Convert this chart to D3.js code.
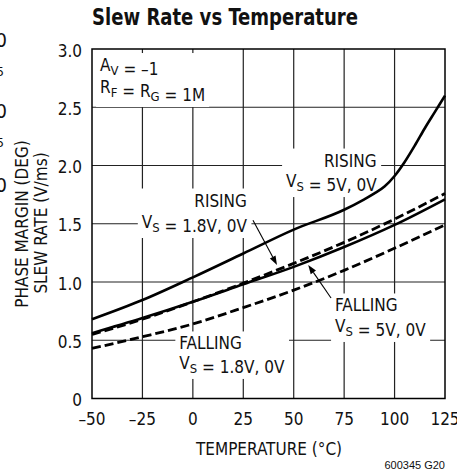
<!DOCTYPE html>
<html><head><meta charset="utf-8">
<script src="https://cdn.jsdelivr.net/npm/d3@7/dist/d3.min.js"></script>
<style>
body{margin:0;background:#fff}
text{font-family:'DejaVu Sans Condensed','Liberation Sans Narrow',sans-serif;fill:#111}
</style>
</head><body><svg id="c" width="457" height="473"></svg>
<script>
// ---- data ----
const title = "Slew Rate vs Temperature";
const xTicks = [-50, -25, 0, 25, 50, 75, 100, 125];
const xTickLabels = ["–50", "–25", "0", "25", "50", "75", "100", "125"];
const yTicks = [0, 0.5, 1.0, 1.5, 2.0, 2.5, 3.0];
const yTickLabels = ["0", "0.5", "1.0", "1.5", "2.0", "2.5", "3.0"];

const tempsRising5V = [-50, -25, 0, 25, 50, 75, 85, 90, 95, 100, 105, 110, 115, 120, 125];
const rising5V      = [0.68, 0.845, 1.04, 1.245, 1.45, 1.62, 1.71, 1.76, 1.82, 1.91, 2.03, 2.17, 2.32, 2.46, 2.6];

const temps       = [-50, -25, 0, 25, 50, 75, 100, 125];
const rising1p8V  = [0.55, 0.68, 0.83, 0.99, 1.16, 1.34, 1.54, 1.76];
const falling5V   = [0.56, 0.69, 0.83, 0.98, 1.13, 1.30, 1.49, 1.71];
const falling1p8V = [0.43, 0.53, 0.64, 0.78, 0.93, 1.10, 1.29, 1.49];

// ---- layout ----
const svg = d3.select("#c");
const W = 457, H = 473;
const m = {l: 92, r: 445, t: 49, b: 398.5};
const x = d3.scaleLinear().domain([-50, 125]).range([m.l, m.r]);
const y = d3.scaleLinear().domain([0, 3]).range([m.b, m.t]);
const FS = 17;

svg.append("rect").attr("width", W).attr("height", H).attr("fill", "#fff");

// cropped glyphs at left edge (neighbouring chart)
[39, 110, 184].forEach(cy => svg.append("text").attr("x", 7).attr("y", cy + 7.5)
  .attr("text-anchor", "end").style("font-size", "20px").text("0"));
[71, 142].forEach(cy => svg.append("text").attr("x", 4).attr("y", cy + 5)
  .attr("text-anchor", "end").style("font-size", "13px").text("5"));

// grid
const grid = svg.append("g").attr("stroke", "#222").attr("stroke-width", 1.2);
xTicks.slice(1, -1).forEach(t => grid.append("line")
  .attr("x1", x(t)).attr("x2", x(t)).attr("y1", m.t).attr("y2", m.b));
yTicks.slice(1, -1).forEach(v => grid.append("line")
  .attr("x1", m.l).attr("x2", m.r).attr("y1", y(v)).attr("y2", y(v)));

// annotation labels (with white knock-out backgrounds)
const bgLayer = svg.append("g");
const curveLayer = svg.append("g");
const textLayer = svg.append("g");

function addLabel(lines, t, v, anchor, lineGap) {
  const g = textLayer.append("g");
  lines.forEach((parts, i) => {
    const tx = g.append("text").attr("x", x(t)).attr("y", y(v) + i * lineGap)
      .attr("text-anchor", anchor).style("font-size", FS + "px");
    parts.forEach(p => {
      if (typeof p === "object") {
        tx.append("tspan").attr("dy", 4).style("font-size", "13px").text(p.s);
        tx.append("tspan").attr("dy", -4).text("");
      } else {
        tx.append("tspan").text(p);
      }
    });
  });
  const bb = g.node().getBBox();
  bgLayer.append("rect").attr("x", bb.x - 4).attr("y", bb.y - 2)
    .attr("width", bb.width + 8).attr("height", bb.height + 4).attr("fill", "#fff");
}

addLabel([["A", {s: "V"}, " = –1"], ["R", {s: "F"}, " = R", {s: "G"}, " = 1M"]], -46, 2.811, "start", 22);
addLabel([["RISING"], ["V", {s: "S"}, " = 5V, 0V"]], 91.1, 1.991, "end", 20.5);
addLabel([["RISING"], ["V", {s: "S"}, " = 1.8V, 0V"]], 26.8, 1.648, "end", 21.5);
addLabel([["FALLING"], ["V", {s: "S"}, " = 5V, 0V"]], 70.5, 0.747, "start", 20.5);
addLabel([["FALLING"], ["V", {s: "S"}, " = 1.8V, 0V"]], -6.7, 0.421, "start", 19.5);

// curves
const line = d3.line().x(d => x(d[0])).y(d => y(d[1])).curve(d3.curveMonotoneX);
function drawCurve(ts, vs, dash) {
  curveLayer.append("path").datum(ts.map((t, i) => [t, vs[i]]))
    .attr("d", line).attr("fill", "none").attr("stroke", "#000")
    .attr("stroke-width", dash ? 2.8 : 2.6)
    .attr("stroke-dasharray", dash ? "9,4" : null);
}
drawCurve(tempsRising5V, rising5V, false);
drawCurve(temps, falling5V, false);
drawCurve(temps, rising1p8V, true);
drawCurve(temps, falling1p8V, true);

// arrows
function arrow(t0, v0, t1, v1) {
  const x0 = x(t0), y0 = y(v0), x1 = x(t1), y1 = y(v1);
  const a = Math.atan2(y1 - y0, x1 - x0), L = 9, w = 3.2;
  const bx = x1 - L * Math.cos(a), by = y1 - L * Math.sin(a);
  svg.append("line").attr("x1", x0).attr("y1", y0).attr("x2", bx).attr("y2", by)
    .attr("stroke", "#000").attr("stroke-width", 1.1);
  svg.append("path").attr("d", `M${x1},${y1}L${bx - w * Math.sin(a)},${by + w * Math.cos(a)}L${bx + w * Math.sin(a)},${by - w * Math.cos(a)}Z`)
    .attr("fill", "#000");
}
arrow(29.8, 1.53, 41.7, 1.146);
arrow(68.5, 0.863, 57.2, 1.146);

// frame
svg.append("rect").attr("x", m.l).attr("y", m.t).attr("width", m.r - m.l).attr("height", m.b - m.t)
  .attr("fill", "none").attr("stroke", "#000").attr("stroke-width", 1.5);

// tick labels
svg.append("g").selectAll("text").data(xTicks).join("text")
  .attr("x", d => x(d)).attr("y", 425).attr("text-anchor", "middle")
  .style("font-size", FS + "px").text((d, i) => xTickLabels[i]);
svg.append("g").selectAll("text").data(yTicks).join("text")
  .attr("x", 82).attr("y", d => y(d) + 7.5).attr("text-anchor", "end")
  .style("font-size", FS + "px").text((d, i) => yTickLabels[i]);

// axis titles
svg.append("text").attr("x", 269).attr("y", 455).attr("text-anchor", "middle")
  .style("font-size", FS + "px").text("TEMPERATURE (°C)");
svg.append("text").attr("transform", "translate(47,223) rotate(-90)").attr("text-anchor", "middle")
  .style("font-size", FS + "px").text("SLEW RATE (V/ms)");
svg.append("text").attr("transform", "translate(28,224) rotate(-90)").attr("text-anchor", "middle")
  .style("font-size", FS + "px").text("PHASE MARGIN (DEG)");

// title
svg.append("text").attr("x", 92).attr("y", 25).attr("textLength", 266).attr("lengthAdjust", "spacingAndGlyphs")
  .style("font-size", "23px").style("font-weight", "bold").text(title);

// figure code
svg.append("text").attr("x", 445).attr("y", 469).attr("text-anchor", "end")
  .style("font-family", "'Liberation Sans',Arial,sans-serif").style("font-size", "11px").text("600345 G20");
</script>
</body></html>
